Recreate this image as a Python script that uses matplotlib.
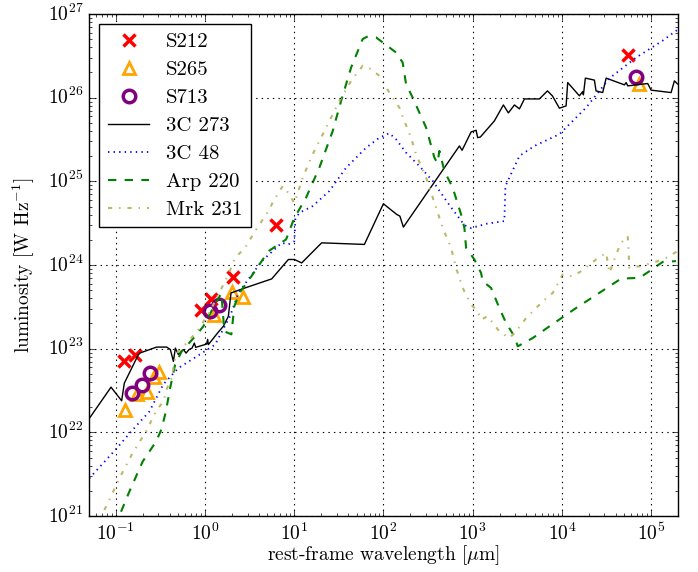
import numpy as np
import matplotlib
matplotlib.use("Agg")
from matplotlib import pyplot as plt

# photometry of the three sources (wavelength in micron, luminosity in W/Hz)
s212_wl = [0.125, 0.164, 0.90, 1.17, 2.04, 6.2, 5.5e4]
s212_lum = [7.2e22, 8.3e22, 2.9e23, 3.9e23, 7.1e23, 3.0e24, 3.2e26]
s265_wl = [0.127, 0.171, 0.221, 0.27, 0.305, 1.25, 1.99, 2.69, 7.3e4]
s265_lum = [1.86e22, 2.85e22, 3.0e22, 4.6e22, 5.3e22, 2.5e23, 4.8e23, 4.2e23, 1.44e26]
s713_wl = [0.150, 0.198, 0.242, 1.14, 1.44, 6.7e4]
s713_lum = [2.94e22, 3.7e22, 5.1e22, 2.8e23, 3.3e23, 1.78e26]

# template SEDs, log10(wavelength / micron) and log10(luminosity / W Hz^-1)
qso_3c273_logwl = [-1.308, -1.054, -0.935, -0.905, -0.748, -0.725, -0.543, -0.430, -0.389,
                   -0.355, -0.333, -0.299, -0.243, -0.213, -0.179, -0.146, -0.120, -0.105,
                   0.018, 0.029, 0.037, 0.149, 0.205, 0.261, 0.291, 0.448, 0.747, 0.934,
                   1.001, 1.083, 1.307, 1.786, 1.999, 2.148, 2.184, 2.223, 2.851, 2.881,
                   2.982, 3.038, 3.056, 3.086, 3.243, 3.344, 3.400, 3.468, 3.524, 3.580,
                   3.748, 3.838, 3.894, 3.972, 4.047, 4.065, 4.196, 4.233, 4.241, 4.263,
                   4.364, 4.383, 4.457, 4.496, 4.701, 4.720, 4.738, 4.962, 5.000, 5.224,
                   5.261, 5.295]
qso_3c273_loglum = [22.150, 22.540, 22.377, 22.588, 22.928, 22.950, 23.019, 23.019, 22.990,
                    22.848, 23.007, 22.930, 22.990, 22.947, 22.990, 23.007, 23.067, 23.016,
                    23.055, 23.111, 23.048, 23.199, 23.267, 23.387, 23.666, 23.726, 23.834,
                    24.066, 24.066, 24.025, 24.265, 24.246, 24.732, 24.605, 24.584, 24.453,
                    25.423, 25.371, 25.590, 25.611, 25.522, 25.530, 25.722, 25.913, 25.818,
                    25.913, 25.866, 25.985, 25.985, 26.081, 26.021, 25.874, 25.902, 26.181,
                    26.022, 26.073, 26.034, 26.234, 26.210, 26.081, 26.061, 26.234, 26.153,
                    26.181, 26.141, 26.169, 26.090, 26.061, 26.201, 26.165]

qso_3c48_logwl = [-1.298, -1.006, -0.812, -0.624, -0.467, -0.299, -0.075, 0.112, 0.280,
                  0.373, 0.635, 0.859, 0.934, 1.001, 1.012, 1.057, 1.206, 1.393, 1.581,
                  1.805, 1.954, 2.066, 2.141, 2.253, 2.402, 2.552, 2.739, 2.907, 2.982,
                  3.150, 3.355, 3.367, 3.524, 3.692, 3.972, 4.271, 4.532, 4.832, 5.127,
                  5.295]
qso_3c48_loglum = [21.450, 21.790, 22.030, 22.249, 22.576, 22.768, 22.920, 23.048, 23.387,
                   23.666, 24.046, 24.265, 24.246, 24.285, 24.548, 24.624, 24.704, 24.884,
                   25.163, 25.402, 25.522, 25.575, 25.503, 25.343, 25.183, 25.004, 24.716,
                   24.477, 24.441, 24.492, 24.525, 24.944, 25.303, 25.423, 25.563, 25.881,
                   26.231, 26.480, 26.680, 26.812]

arp220_logwl = [-0.942, -0.849, -0.700, -0.549, -0.490, -0.439, -0.392, -0.336, -0.262,
                -0.112, -0.019, 0.130, 0.183, 0.216, 0.295, 0.328, 0.385, 0.497, 0.710,
                0.908, 1.001, 1.132, 1.281, 1.431, 1.525, 1.637, 1.767, 1.823, 1.917,
                2.141, 2.215, 2.253, 2.327, 2.478, 2.571, 2.604, 2.627, 2.683, 2.776,
                2.870, 2.907, 2.926, 3.019, 3.094, 3.112, 3.206, 3.299, 3.374, 3.468,
                3.505, 3.673, 3.860, 4.159, 4.533, 4.664, 4.869, 4.981, 5.130, 5.280]
arp220_loglum = [21.051, 21.291, 21.650, 21.890, 22.034, 22.249, 22.528, 22.808, 22.968,
                 23.147, 23.267, 23.566, 23.662, 23.207, 23.171, 23.507, 23.666, 23.830,
                 24.165, 24.305, 24.564, 24.804, 25.163, 25.602, 25.962, 26.360, 26.701,
                 26.732, 26.720, 26.540, 26.420, 26.162, 26.001, 25.642, 25.283, 25.219,
                 25.363, 25.123, 24.923, 24.605, 24.444, 24.205, 24.066, 23.905, 23.806,
                 23.726, 23.486, 23.307, 23.147, 23.028, 23.127, 23.267, 23.486, 23.746,
                 23.838, 23.846, 23.926, 24.037, 24.046]

mrk231_logwl = [-1.129, -1.073, -0.961, -0.815, -0.661, -0.546, -0.467, -0.423, -0.374,
                -0.330, -0.262, -0.187, -0.075, 0.056, 0.168, 0.261, 0.336, 0.448, 0.561,
                0.710, 0.766, 0.870, 0.934, 1.001, 1.094, 1.206, 1.357, 1.506, 1.637,
                1.767, 1.861, 1.954, 2.066, 2.178, 2.234, 2.309, 2.365, 2.478, 2.590,
                2.664, 2.758, 2.814, 2.888, 2.982, 3.056, 3.094, 3.168, 3.299, 3.411,
                3.487, 3.599, 3.785, 3.897, 4.009, 4.121, 4.215, 4.383, 4.496, 4.533,
                4.608, 4.664, 4.738, 4.757, 4.869, 5.018, 5.168, 5.295]
mrk231_loglum = [21.072, 21.192, 21.450, 21.746, 22.010, 22.261, 22.369, 22.537, 22.648,
                 22.928, 23.007, 23.087, 23.228, 23.447, 23.686, 23.886, 24.085, 24.205,
                 24.405, 24.644, 24.764, 24.944, 24.860, 24.740, 25.043, 25.323, 25.642,
                 25.962, 26.201, 26.381, 26.341, 26.261, 26.061, 25.881, 25.722, 25.522,
                 25.323, 25.043, 24.684, 24.444, 24.205, 23.965, 23.726, 23.527, 23.447,
                 23.347, 23.387, 23.207, 23.127, 23.207, 23.366, 23.566, 23.666, 23.886,
                 23.866, 23.926, 24.066, 24.145, 23.905, 24.126, 24.265, 24.345, 23.965,
                 23.986, 24.025, 24.085, 24.165]

plt.style.use("classic")
plt.rcParams["font.family"] = "serif"
plt.rcParams["font.serif"] = ["cmr10", "DejaVu Serif"]
plt.rcParams["mathtext.fontset"] = "cm"
plt.rcParams["axes.formatter.use_mathtext"] = True
plt.rcParams["figure.facecolor"] = "white"

fig = plt.figure(figsize=(6.98, 5.72), dpi=100)
ax = fig.add_axes([0.1275, 0.0979, 0.8438, 0.8776])

ax.plot(s212_wl, s212_lum, "x", color="red", ms=8, mew=2.5, label="S212")
ax.plot(s265_wl, s265_lum, "^", mfc="none", mec="orange", ms=9, mew=2, label="S265")
ax.plot(s713_wl, s713_lum, "o", mfc="none", mec="purple", ms=9, mew=2.5, label="S713")

templates = [
    (qso_3c273_logwl, qso_3c273_loglum, "-", "black", 1.0, "3C 273"),
    (qso_3c48_logwl, qso_3c48_loglum, ":", "blue", 1.3, "3C 48"),
    (arp220_logwl, arp220_loglum, "--", "green", 1.5, "Arp 220"),
    (mrk231_logwl, mrk231_loglum, "-.", "darkkhaki", 1.5, "Mrk 231"),
]
for logwl, loglum, ls, color, lw, name in templates:
    ax.plot(10 ** np.array(logwl), 10 ** np.array(loglum), ls=ls, color=color, lw=lw,
            label=name)

ax.set_xscale("log")
ax.set_yscale("log")
ax.set_xlim(0.05, 2e5)
ax.set_ylim(1e21, 1e27)
ax.grid(True, which="major", color="black", linestyle=":", linewidth=0.8)
ax.tick_params(labelsize=14)
ax.tick_params(axis="x", which="major", pad=5)
ax.set_xlabel(r"rest-frame wavelength [$\mu$m]", fontsize=14, labelpad=-1)
ax.set_ylabel(r"luminosity [W Hz$^{-1}$]", fontsize=14, labelpad=8)
ax.legend(loc="upper left", numpoints=1, fontsize=15, handlelength=2.0,
          labelspacing=0.45)

fig.savefig("out.png", dpi=100, facecolor="white")
